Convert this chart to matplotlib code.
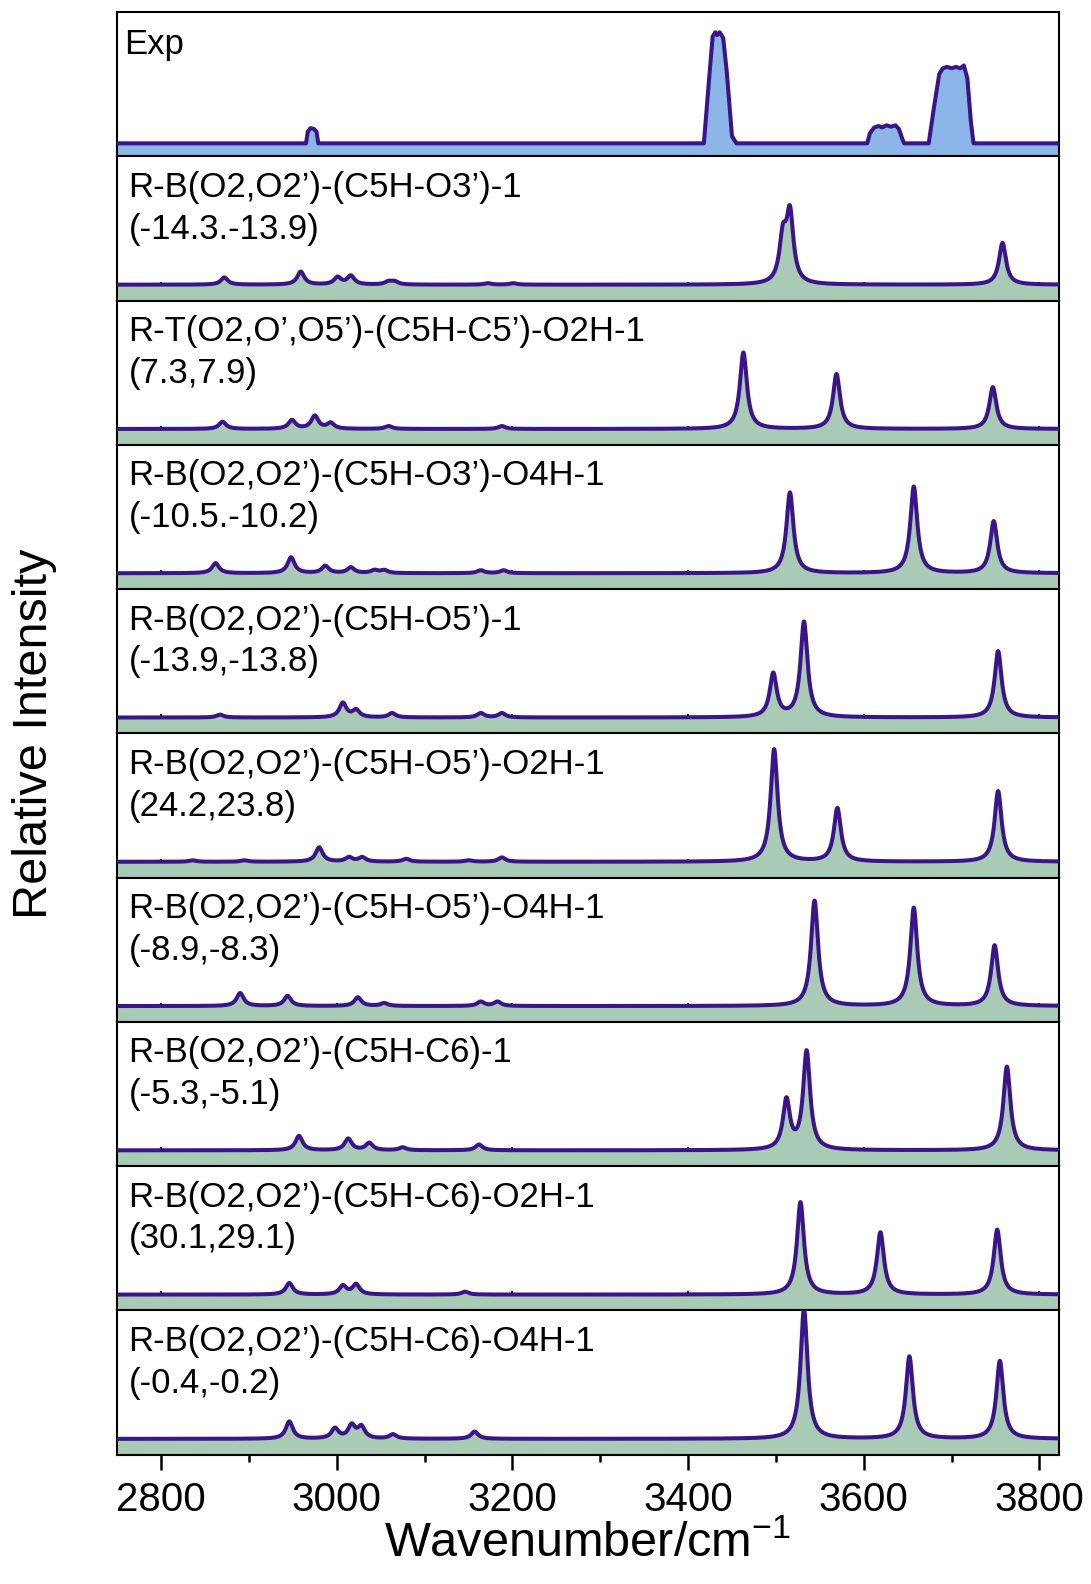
import matplotlib.pyplot as plt
import numpy as np

plt.rcParams['font.family'] = ['Liberation Sans', 'DejaVu Sans']
plt.rcParams['mathtext.default'] = 'regular'

# panel labels (name, energies)
names = [
    "R-B(O2,O2\u2019)-(C5H-O3\u2019)-1",
    "R-T(O2,O\u2019,O5\u2019)-(C5H-C5\u2019)-O2H-1",
    "R-B(O2,O2\u2019)-(C5H-O3\u2019)-O4H-1",
    "R-B(O2,O2\u2019)-(C5H-O5\u2019)-1",
    "R-B(O2,O2\u2019)-(C5H-O5\u2019)-O2H-1",
    "R-B(O2,O2\u2019)-(C5H-O5\u2019)-O4H-1",
    "R-B(O2,O2\u2019)-(C5H-C6)-1",
    "R-B(O2,O2\u2019)-(C5H-C6)-O2H-1",
    "R-B(O2,O2\u2019)-(C5H-C6)-O4H-1",
]
energies = [
    "(-14.3.-13.9)",
    "(7.3,7.9)",
    "(-10.5.-10.2)",
    "(-13.9,-13.8)",
    "(24.2,23.8)",
    "(-8.9,-8.3)",
    "(-5.3,-5.1)",
    "(30.1,29.1)",
    "(-0.4,-0.2)",
]

# calculated band positions (cm-1) and heights (fraction of panel)
freqs = [
    [2872, 2959, 3001, 3016, 3059, 3066, 3172, 3201, 3508, 3516, 3758],
    [2870, 2949, 2975, 2993, 3059, 3188, 3463, 3569, 3747],
    [2862, 2948, 2987, 3016, 3043, 3054, 3164, 3190, 3516, 3657, 3748],
    [2867, 3007, 3022, 3063, 3164, 3188, 3497, 3532, 3753],
    [2836, 2895, 2980, 3014, 3029, 3079, 3150, 3188, 3498, 3570, 3753],
    [2890, 2944, 3024, 3054, 3164, 3183, 3544, 3657, 3749],
    [2957, 3013, 3037, 3075, 3162, 3512, 3535, 3763],
    [2946, 3007, 3022, 3146, 3528, 3619, 3752],
    [2946, 2998, 3017, 3028, 3064, 3157, 3532, 3652, 3755],
]
heights = [
    [0.05, 0.09, 0.05, 0.06, 0.02, 0.02, 0.01, 0.01, 0.30, 0.47, 0.29],
    [0.05, 0.06, 0.09, 0.04, 0.02, 0.02, 0.53, 0.38, 0.29],
    [0.07, 0.11, 0.05, 0.04, 0.02, 0.02, 0.02, 0.02, 0.56, 0.60, 0.36],
    [0.02, 0.10, 0.05, 0.03, 0.03, 0.03, 0.30, 0.66, 0.46],
    [0.01, 0.01, 0.10, 0.03, 0.03, 0.02, 0.01, 0.03, 0.78, 0.37, 0.49],
    [0.09, 0.07, 0.06, 0.02, 0.03, 0.03, 0.73, 0.68, 0.42],
    [0.10, 0.08, 0.05, 0.02, 0.04, 0.34, 0.68, 0.58],
    [0.08, 0.06, 0.07, 0.02, 0.64, 0.43, 0.45],
    [0.12, 0.07, 0.09, 0.08, 0.03, 0.05, 0.90, 0.57, 0.54],
]

# experimental trace (cm-1, height above baseline)
exp_x = [2750, 2965, 2967, 2970, 2974, 2977, 2979,
         3418, 3424, 3428, 3431, 3433, 3436, 3440, 3444, 3450, 3455,
         3604, 3607, 3612, 3617, 3621, 3626, 3631, 3636, 3640, 3644, 3646,
         3674, 3680, 3686, 3690, 3695, 3700, 3705, 3710, 3714, 3718, 3722, 3725, 3822]
exp_y = [0, 0, 0.08, 0.105, 0.10, 0.08, 0,
         0, 0.45, 0.74, 0.77, 0.75, 0.77, 0.73, 0.50, 0.05, 0,
         0, 0.07, 0.11, 0.12, 0.11, 0.125, 0.115, 0.125, 0.10, 0.03, 0,
         0, 0.25, 0.48, 0.52, 0.53, 0.52, 0.53, 0.52, 0.54, 0.45, 0.15, 0, 0]

base = 0.11
exp_base = 0.09
hwhm = 4.8
line_c = '#3a1488'
green = '#a9cbb6'
blue = '#8db6e8'

x = np.linspace(2750, 3822, 4000)

fig = plt.figure(figsize=(10.91, 15.84), dpi=100)
axes = fig.subplots(10, 1, sharex=True, gridspec_kw=dict(hspace=0))
fig.subplots_adjust(left=0.1074, right=0.9704, top=0.9924, bottom=0.0816)

ax = axes[0]
ey = exp_base + np.array(exp_y)
ax.fill_between(exp_x, 0, ey, color=blue, lw=0, zorder=1)
ax.plot(exp_x, ey, color=line_c, lw=2.9, zorder=3)
ax.text(0.007, 0.71, "Exp", transform=ax.transAxes, fontsize=25, va='baseline')

for i in range(9):
    ax = axes[i + 1]
    y = np.full_like(x, base)
    for c, h in zip(freqs[i], heights[i]):
        y += h / (1 + ((x - c) / hwhm) ** 2)
    ax.fill_between(x, 0, y, color=green, lw=0, zorder=1)
    ax.plot(x, y, color=line_c, lw=2.9, zorder=3)
    ax.text(0.012, 0.72, names[i], transform=ax.transAxes, fontsize=25, va='baseline')
    ax.text(0.012, 0.43, energies[i], transform=ax.transAxes, fontsize=25, va='baseline')

for i, ax in enumerate(axes):
    ax.set_xlim(2750, 3822)
    ax.set_ylim(0, 1)
    ax.set_yticks([])
    ax.set_axisbelow(True)
    for s in ax.spines.values():
        s.set_linewidth(1.5)
    if i < 9:
        ax.tick_params(axis='x', which='both', direction='in', length=0, labelbottom=False)
    if 0 < i < 9:
        ax.set_xticks(np.arange(2800, 3801, 200))
        ax.tick_params(axis='x', which='major', direction='in', length=14, width=1.5)
        ax.set_xticks(np.arange(2800, 3801, 100), minor=True)
        ax.tick_params(axis='x', which='minor', length=0)

ax = axes[-1]
ax.set_xticks(np.arange(2800, 3801, 200))
ax.set_xticks(np.arange(2900, 3801, 200), minor=True)
ax.tick_params(axis='x', which='major', direction='out', length=11, width=1.8, labelsize=29, pad=8)
ax.tick_params(axis='x', which='minor', direction='out', length=5, width=1.8)
ax.set_xlim(2750, 3822)
ax.set_xlabel("Wavenumber/cm$^{-1}$", fontsize=35, labelpad=2)
fig.text(0.032, 0.537, "Relative Intensity", rotation=90, fontsize=35, va='center', ha='center')

fig.savefig("out.png", dpi=100)
